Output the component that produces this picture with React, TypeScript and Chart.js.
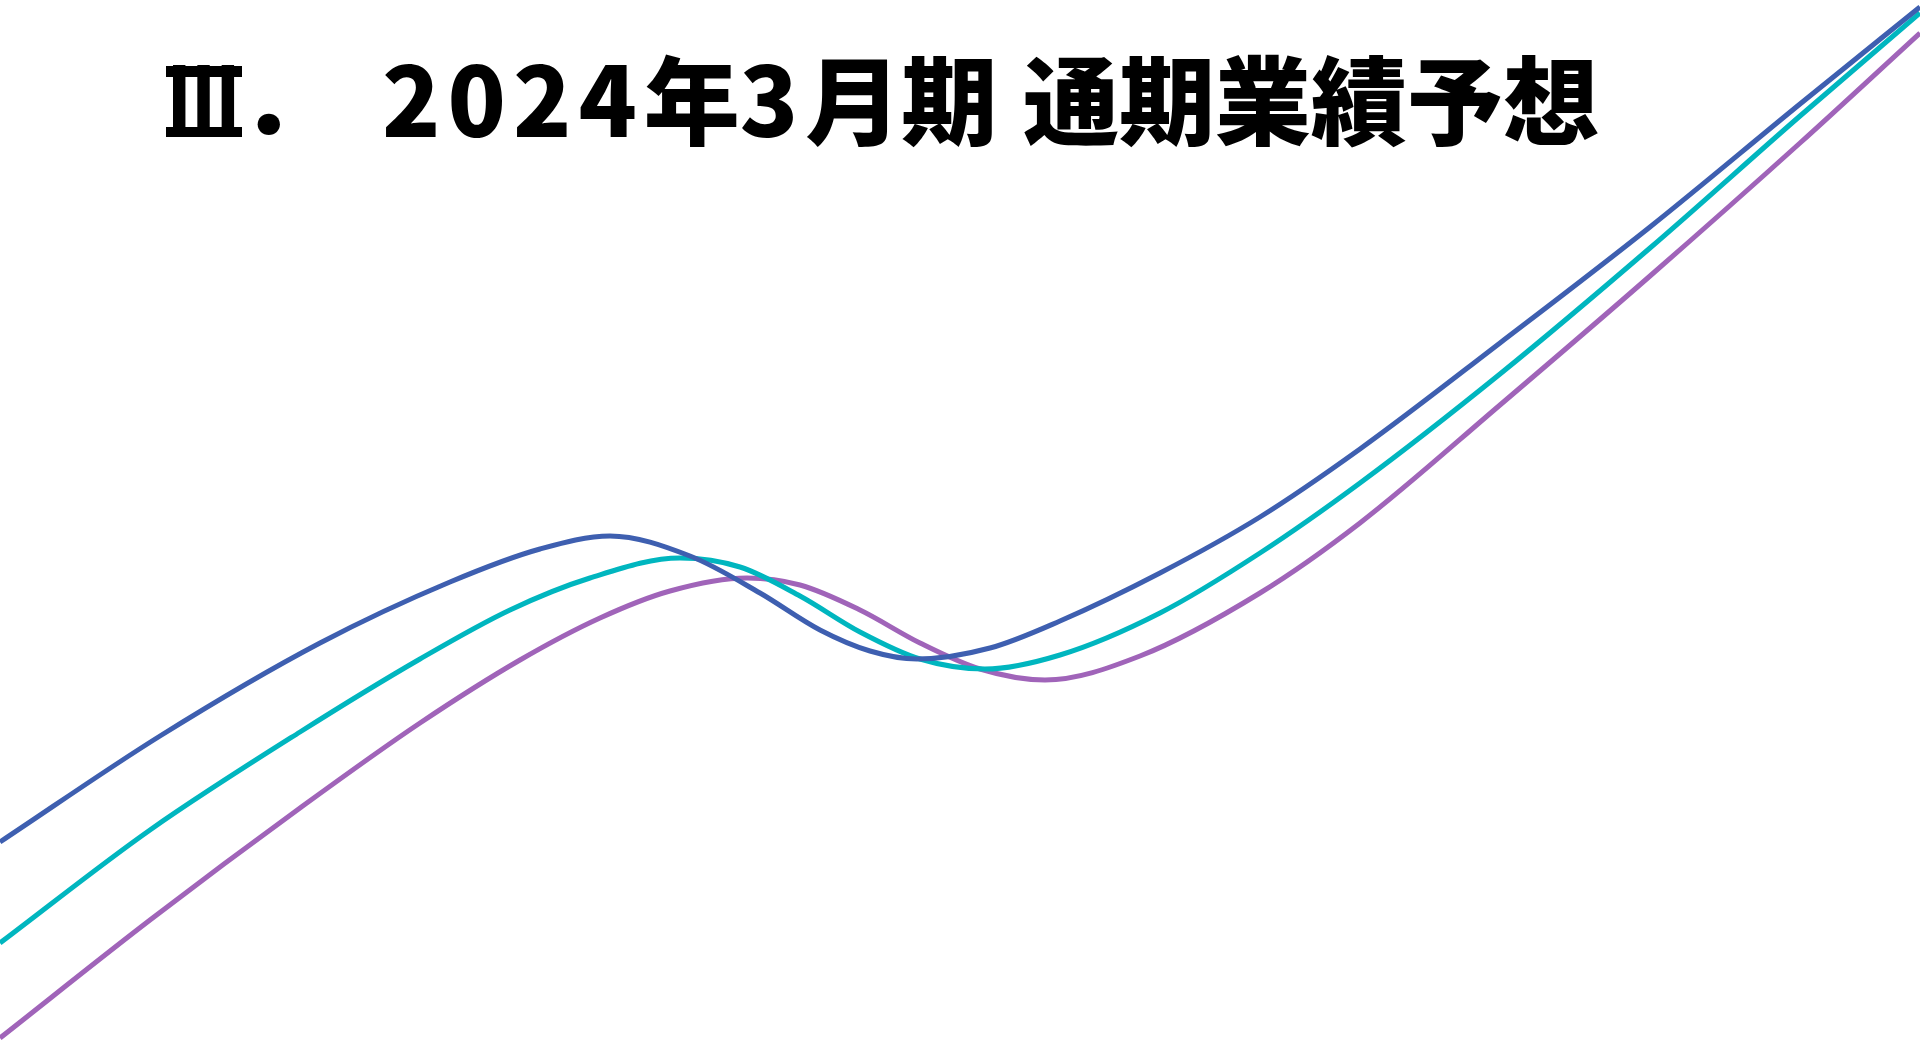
import React, { useEffect, useRef } from "react";
import { Chart, registerables } from "chart.js";

Chart.register(...registerables);

// Title text
const titleNumeral = "Ⅲ";
const titlePeriod = "．";
const titleYear = "2024";
const titleNen = "年";
const titleMonth = "3";
const titleKi = "月期";
const titleSub = "通期業績予想";

// Series (x position along the slide, level above the bottom edge)
const blueX = [0, 160, 320, 450, 540, 610, 690, 760, 820, 870, 917, 990, 1060, 1160, 1260, 1360, 1500, 1650, 1800, 1920];
const blueY = [203, 309, 402, 463, 496, 509, 489, 452, 415, 394, 386, 397, 424, 472, 528, 596, 702, 818, 941, 1038];

const cyanX = [0, 150, 300, 420, 510, 590, 680, 740, 800, 860, 920, 985, 1060, 1160, 1260, 1360, 1500, 1650, 1800, 1920];
const cyanY = [102, 215, 313, 386, 435, 467, 487, 478, 449, 413, 386, 376, 390, 432, 492, 562, 671, 797, 929, 1032];

const purpleX = [0, 150, 300, 420, 520, 600, 670, 747, 800, 860, 920, 980, 1045, 1140, 1260, 1360, 1500, 1650, 1800, 1920];
const purpleY = [7, 125, 237, 322, 385, 427, 454, 467, 460, 435, 402, 376, 365, 389, 452, 522, 640, 769, 902, 1012];

const seriesColors = ["#3E5FB0", "#00B6BF", "#A064B9"];

const W = 1920;
const H = 1045;

function toPoints(xs: number[], ys: number[]) {
  return xs.map((x, i) => ({ x, y: ys[i] }));
}

export default function App() {
  const canvasRef = useRef<HTMLCanvasElement | null>(null);

  useEffect(() => {
    if (!canvasRef.current) return;
    const chart = new Chart(canvasRef.current, {
      type: "line",
      data: {
        datasets: [
          { label: "blue", data: toPoints(blueX, blueY), borderColor: seriesColors[0] },
          { label: "cyan", data: toPoints(cyanX, cyanY), borderColor: seriesColors[1] },
          { label: "purple", data: toPoints(purpleX, purpleY), borderColor: seriesColors[2] },
        ],
      },
      options: {
        animation: false,
        responsive: false,
        maintainAspectRatio: false,
        layout: { padding: 0 },
        elements: {
          point: { radius: 0, hoverRadius: 0 },
          line: { borderWidth: 5, cubicInterpolationMode: "monotone", fill: false },
        },
        scales: {
          x: { type: "linear", min: 0, max: W, display: false },
          y: { type: "linear", min: 0, max: H, display: false },
        },
        plugins: {
          legend: { display: false },
          tooltip: { enabled: false },
        },
      },
    });
    return () => chart.destroy();
  }, []);

  const titleStyle: React.CSSProperties = {
    position: "absolute",
    top: 48,
    fontFamily: "'Noto Sans CJK JP', 'Noto Sans', sans-serif",
    fontWeight: 900,
    fontSize: 96,
    lineHeight: 1,
    color: "#000",
    whiteSpace: "pre",
    margin: 0,
  };
  const digitStyle: React.CSSProperties = { letterSpacing: 7 };
  const bar: React.CSSProperties = { position: "absolute", left: 166, width: 76, background: "#000" };

  return (
    <div style={{ position: "fixed", left: 0, top: 0, width: W, height: H, background: "#fff", overflow: "hidden" }}>
      <canvas ref={canvasRef} width={W} height={H} style={{ position: "absolute", left: 0, top: 0, width: W, height: H }} />
      <div style={{ ...titleStyle, left: 169, transform: "scaleX(0.72)", transformOrigin: "0 0" }}>{titleNumeral}</div>
      <div style={{ ...bar, top: 66, height: 11 }} />
      <div style={{ ...bar, top: 127, height: 10 }} />
      <div style={{ ...titleStyle, left: 240 }}>{titlePeriod}</div>
      <div style={{ ...titleStyle, left: 382 }}>
        <span style={digitStyle}>{titleYear}</span>
        {titleNen}
        <span style={digitStyle}>{titleMonth}</span>
        {titleKi}
      </div>
      <div style={{ ...titleStyle, left: 1023 }}>{titleSub}</div>
    </div>
  );
}
